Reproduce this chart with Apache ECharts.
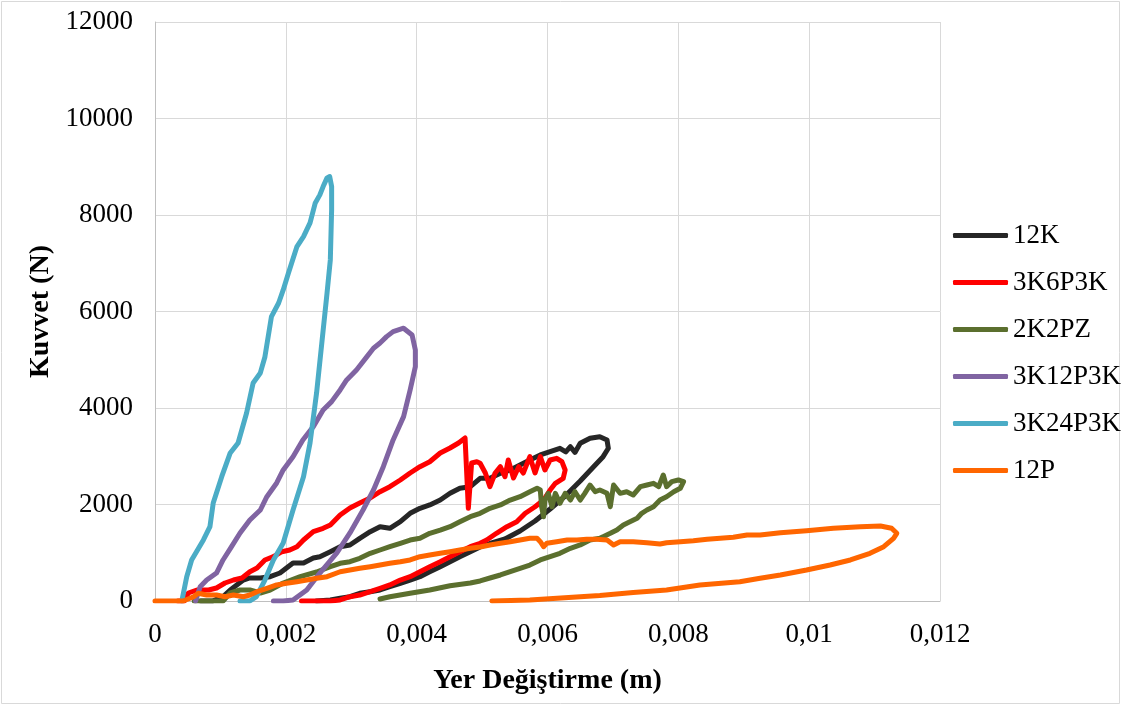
<!DOCTYPE html>
<html>
<head>
<meta charset="utf-8">
<script src="https://cdn.jsdelivr.net/npm/echarts@6/dist/echarts.min.js"></script>
<style>
html,body{margin:0;padding:0;background:#fff;}
#c{width:1122px;height:706px;}
</style>
</head>
<body>
<div id="c"></div>
<script>
const seriesNames = ['12K','3K6P3K','2K2PZ','3K12P3K','3K24P3K','12P'];
const xTickLabels = ['0','0,002','0,004','0,006','0,008','0,01','0,012'];
const yTickLabels = ['0','2000','4000','6000','8000','10000','12000'];

const d12K = [[0.0007,0],[0.00088,0],[0.00105,100],[0.00115,228],[0.00125,332],[0.00135,435],[0.00145,477],[0.00161,477],[0.00176,504],[0.00191,580],[0.00201,684],[0.00211,788],[0.00227,788],[0.00242,891],[0.00252,918],[0.00268,1022],[0.00283,1125],[0.00298,1161],[0.00313,1299],[0.00329,1436],[0.00344,1540],[0.00359,1507],[0.00375,1643],[0.0039,1818],[0.00405,1921],[0.0042,1990],[0.00436,2093],[0.00451,2232],[0.00466,2336],[0.00482,2369],[0.00497,2543],[0.00512,2543],[0.00528,2647],[0.00543,2715],[0.00558,2819],[0.00573,2922],[0.00589,3026],[0.00604,3094],[0.00619,3165],[0.00628,3090],[0.00635,3198],[0.00642,3080],[0.0065,3268],[0.00665,3372],[0.0068,3405],[0.00691,3337],[0.00693,3165],[0.00685,2991],[0.00673,2819],[0.0065,2487],[0.00627,2176],[0.00604,1907],[0.00581,1658],[0.00558,1451],[0.00535,1285],[0.00512,1192],[0.00497,1119],[0.00482,1022],[0.00466,918],[0.00451,814],[0.00436,711],[0.0042,607],[0.00405,504],[0.0039,435],[0.00375,367],[0.00359,296],[0.00344,228],[0.00329,193],[0.00313,160],[0.00298,89],[0.00283,56],[0.00268,21],[0.00247,0]];

const d3K6P3K = [[0.00035,0],[0.00045,0],[0.00051,166],[0.00064,228],[0.00082,228],[0.00094,269],[0.00107,373],[0.0012,435],[0.00133,477],[0.00145,607],[0.00156,684],[0.00168,850],[0.00181,918],[0.00194,1022],[0.00206,1057],[0.00217,1125],[0.00227,1264],[0.00242,1436],[0.00257,1507],[0.00268,1575],[0.00283,1782],[0.00298,1927],[0.00313,2031],[0.00329,2135],[0.00344,2265],[0.00359,2369],[0.00375,2508],[0.0039,2653],[0.00405,2783],[0.0042,2887],[0.00436,3067],[0.00451,3171],[0.00464,3275],[0.00474,3378],[0.00479,1921],[0.00484,2860],[0.00492,2887],[0.00497,2854],[0.00505,2653],[0.00512,2369],[0.0052,2653],[0.00528,2783],[0.00535,2576],[0.0054,2922],[0.00548,2549],[0.00556,2783],[0.00563,2653],[0.00573,2991],[0.00581,2653],[0.00589,2991],[0.00596,2715],[0.00604,2922],[0.00614,2957],[0.00622,2887],[0.00627,2715],[0.00624,2543],[0.00612,2439],[0.00604,2300],[0.00594,2093],[0.00581,1954],[0.00566,1818],[0.00553,1643],[0.00538,1540],[0.00522,1403],[0.00507,1264],[0.00497,1196],[0.00482,1125],[0.00466,1022],[0.00451,918],[0.00436,814],[0.0042,711],[0.00405,607],[0.0039,504],[0.00375,435],[0.00359,332],[0.00344,263],[0.00329,193],[0.00313,124],[0.00298,89],[0.00283,21],[0.00268,0],[0.00224,0]];

const d2K2PZ = [[0.0006,0],[0.00104,0],[0.00115,166],[0.0013,228],[0.00145,228],[0.00161,166],[0.00176,228],[0.00196,373],[0.00222,504],[0.00247,601],[0.00268,711],[0.00283,781],[0.00298,814],[0.00313,885],[0.00329,989],[0.00344,1057],[0.00359,1125],[0.00375,1196],[0.0039,1264],[0.00405,1299],[0.0042,1403],[0.00436,1471],[0.00451,1540],[0.00466,1643],[0.00482,1747],[0.00497,1818],[0.00512,1921],[0.00528,1990],[0.00543,2093],[0.00558,2162],[0.00573,2265],[0.00584,2336],[0.00589,2300],[0.00591,1954],[0.00594,1747],[0.00596,2093],[0.00601,2232],[0.00607,1954],[0.00612,2232],[0.00619,2025],[0.00627,2232],[0.00635,2093],[0.00642,2265],[0.0065,2093],[0.00657,2232],[0.00665,2404],[0.00673,2265],[0.0068,2300],[0.00691,2232],[0.00696,1954],[0.00701,2404],[0.00711,2232],[0.00721,2265],[0.00731,2197],[0.00742,2369],[0.00752,2404],[0.00762,2439],[0.0077,2369],[0.00777,2611],[0.00782,2369],[0.0079,2473],[0.008,2508],[0.00808,2473],[0.00803,2336],[0.00793,2265],[0.00782,2162],[0.00772,2093],[0.00762,1954],[0.00752,1886],[0.00744,1818],[0.00737,1714],[0.00726,1643],[0.00716,1575],[0.00706,1471],[0.00696,1403],[0.00685,1333],[0.0068,1299],[0.00665,1264],[0.0065,1161],[0.00635,1092],[0.00619,989],[0.00604,918],[0.00589,850],[0.00573,746],[0.00558,678],[0.00543,607],[0.00528,539],[0.00512,477],[0.00497,415],[0.00482,373],[0.00451,315],[0.0042,228],[0.0039,160],[0.00359,89],[0.00344,41]];

const d3K12P3K = [[0.00062,0],[0.00069,296],[0.00079,435],[0.00094,580],[0.00104,850],[0.00117,1126],[0.0013,1410],[0.00145,1679],[0.00161,1886],[0.00171,2162],[0.00186,2446],[0.00196,2716],[0.00211,2991],[0.00226,3338],[0.00242,3614],[0.00257,3959],[0.0027,4132],[0.00283,4374],[0.00293,4581],[0.00308,4789],[0.00324,5064],[0.00334,5238],[0.00344,5348],[0.00354,5479],[0.00364,5583],[0.0038,5653],[0.00393,5514],[0.00398,5203],[0.00398,4857],[0.0039,4374],[0.0038,3821],[0.00364,3338],[0.00349,2784],[0.00334,2301],[0.00318,1886],[0.00298,1410],[0.00278,995],[0.00252,580],[0.00232,228],[0.00211,21],[0.00196,0],[0.00181,0]];

const d3K24P3K = [[0.00041,0],[0.000485,504],[0.00056,850],[0.00074,1265],[0.00084,1540],[0.00089,2031],[0.00102,2577],[0.00115,3068],[0.00127,3275],[0.0014,3897],[0.0015,4519],[0.00161,4727],[0.00168,5058],[0.00178,5894],[0.00189,6177],[0.00196,6447],[0.00204,6800],[0.00217,7345],[0.00227,7552],[0.00237,7836],[0.00245,8251],[0.00252,8417],[0.00257,8589],[0.00263,8769],[0.00267,8796],[0.0027,8589],[0.0027,8106],[0.00268,7069],[0.00263,6385],[0.00255,5348],[0.00247,4312],[0.00237,3275],[0.00227,2577],[0.00211,1886],[0.00196,1202],[0.00181,850],[0.00168,435],[0.00155,89],[0.00145,0],[0.0013,0]];

const d12P = [[0,0],[0.00043,0],[0.00059,89],[0.00066,160],[0.00079,124],[0.00094,124],[0.00107,89],[0.0012,124],[0.00135,89],[0.00145,124],[0.00156,193],[0.00171,263],[0.00186,332],[0.00201,367],[0.00217,400],[0.00232,435],[0.00247,470],[0.00263,504],[0.00283,607],[0.00298,642],[0.00313,678],[0.00329,711],[0.00344,746],[0.00359,781],[0.00375,814],[0.0039,850],[0.00405,918],[0.0042,953],[0.00436,989],[0.00451,1022],[0.00466,1057],[0.00482,1092],[0.00497,1119],[0.00512,1161],[0.00528,1196],[0.00543,1229],[0.00558,1264],[0.00573,1299],[0.00584,1299],[0.00589,1229],[0.00594,1125],[0.00599,1196],[0.00614,1229],[0.0063,1264],[0.00645,1264],[0.0066,1279],[0.00675,1279],[0.00691,1264],[0.00701,1161],[0.00711,1229],[0.00731,1229],[0.00752,1208],[0.00772,1181],[0.00782,1208],[0.00803,1229],[0.00823,1250],[0.00844,1279],[0.00864,1299],[0.00884,1320],[0.00905,1368],[0.00925,1368],[0.00956,1416],[0.00996,1457],[0.01037,1507],[0.01078,1540],[0.01109,1554],[0.01126,1507],[0.01134,1403],[0.01129,1299],[0.01114,1125],[0.01093,989],[0.01063,850],[0.01032,746],[0.00996,642],[0.00956,539],[0.00925,470],[0.00894,400],[0.00833,332],[0.00782,228],[0.00731,176],[0.0068,114],[0.0065,89],[0.00573,21],[0.00515,0]];

const seriesData = [d12K, d3K6P3K, d2K2PZ, d3K12P3K, d3K24P3K, d12P];
const colors = ['#262626','#FF0000','#5B6F2E','#8064A2','#4BACC6','#FF6600'];

const chart = echarts.init(document.getElementById('c'), null, {renderer:'canvas'});
const font = '"Liberation Serif","Times New Roman",serif';
chart.setOption({
  animation:false,
  backgroundColor:'#fff',
  color: colors,
  graphic:[{type:'rect', shape:{x:1.5,y:1.5,width:1118,height:702}, style:{fill:'none', stroke:'#d9d9d9', lineWidth:1}, z:-10}],
  grid:{left:155, right:182, top:22, bottom:105},
  legend:{
    orient:'vertical', left:948, top:217,
    icon:'roundRect', itemWidth:55, itemHeight:5, itemGap:20,
    textStyle:{fontFamily:font, fontSize:27, color:'#000', lineHeight:27},
    data: seriesNames
  },
  xAxis:{
    type:'value', min:0, max:0.012, interval:0.002,
    name:'Yer Değiştirme (m)', nameLocation:'middle', nameGap:66,
    nameTextStyle:{fontFamily:font, fontSize:28, fontWeight:'bold', color:'#000'},
    axisLine:{show:true, lineStyle:{color:'#bfbfbf', width:1}},
    axisTick:{show:false},
    axisLabel:{fontFamily:font, fontSize:27, color:'#000', margin:20,
      formatter:(v)=>xTickLabels[Math.round(v/0.002)]},
    splitLine:{show:true, lineStyle:{color:'#d9d9d9', width:1}}
  },
  yAxis:{
    type:'value', min:0, max:12000, interval:2000,
    name:'Kuvvet (N)', nameLocation:'middle', nameGap:97,
    nameTextStyle:{fontFamily:font, fontSize:28, fontWeight:'bold', color:'#000'},
    axisLine:{show:true, lineStyle:{color:'#bfbfbf', width:1}},
    axisTick:{show:false},
    axisLabel:{fontFamily:font, fontSize:27, color:'#000', margin:22,
      formatter:(v)=>yTickLabels[Math.round(v/2000)]},
    splitLine:{show:true, lineStyle:{color:'#d9d9d9', width:1}}
  },
  series: seriesNames.map((n,i)=>({
    name:n, type:'line', data:seriesData[i],
    showSymbol:false, symbol:'none', smooth:false,
    lineStyle:{width:5, color:colors[i], cap:'round', join:'round'},
    itemStyle:{color:colors[i]},
    z:2+i
  }))
});
</script>
</body>
</html>
